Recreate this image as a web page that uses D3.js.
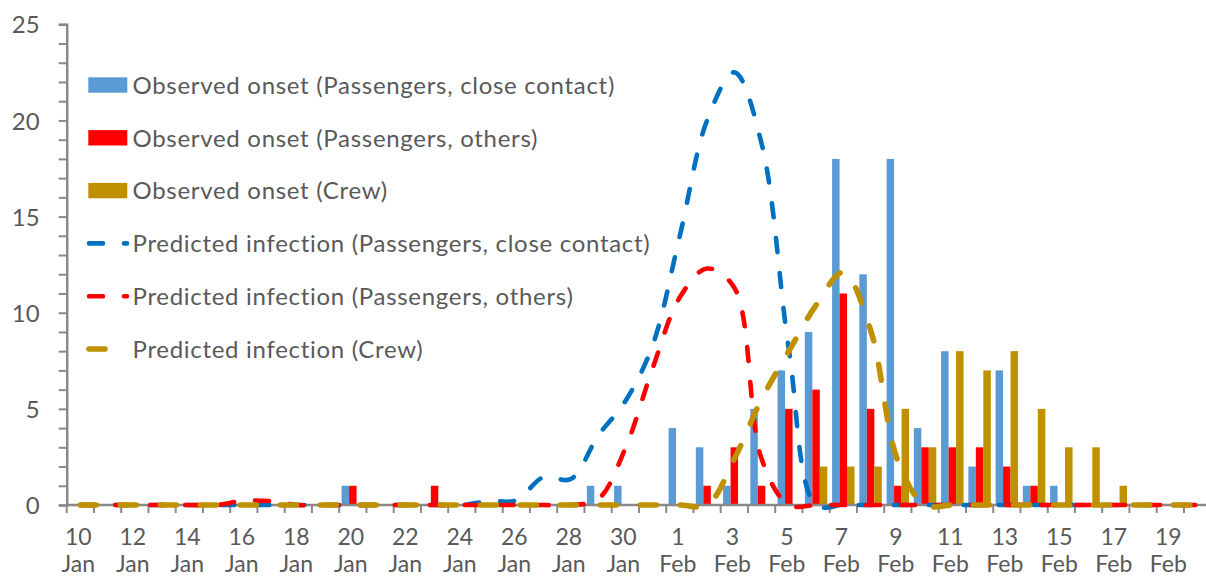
<!DOCTYPE html>
<html>
<head>
<meta charset="utf-8">
<script src="https://cdn.jsdelivr.net/npm/d3@7"></script>
<style>
  body { margin: 0; background: #fff; }
  text { font-family: Lato, "Open Sans", sans-serif; fill: #595959; }
</style>
</head>
<body>
<div id="chart"></div>
<script>
// categories: one per day, 10 Jan .. 20 Feb
const dayNums = ["10","11","12","13","14","15","16","17","18","19","20","21","22","23","24","25","26","27","28","29","30","31",
                 "1","2","3","4","5","6","7","8","9","10","11","12","13","14","15","16","17","18","19","20"];
const months  = ["Jan","Jan","Jan","Jan","Jan","Jan","Jan","Jan","Jan","Jan","Jan","Jan","Jan","Jan","Jan","Jan","Jan","Jan","Jan","Jan","Jan","Jan",
                 "Feb","Feb","Feb","Feb","Feb","Feb","Feb","Feb","Feb","Feb","Feb","Feb","Feb","Feb","Feb","Feb","Feb","Feb","Feb","Feb"];
const dates = dayNums.map((d, i) => d + " " + months[i]);

// observed onsets (bars)
const obsClose  = [0,0,0,0,0,0,0,0,0,0, 1,0,0,0,0,0,0,0,0,1, 1,0,4,3,1,5,7,9,18,12, 18,4,8,2,7,1,1,0,0,0, 0,0];
const obsOthers = [0,0,0,0,0,0,0,0,0,0, 1,0,0,1,0,0,0,0,0,0, 0,0,0,1,3,1,5,6,11,5, 1,3,3,3,2,1,0,0,0,0, 0,0];
const obsCrew   = [0,0,0,0,0,0,0,0,0,0, 0,0,0,0,0,0,0,0,0,0, 0,0,0,0,0,0,0,2,2,2, 5,3,8,7,8,5,3,3,1,0, 0,0];

// predicted infections (smoothed dashed lines)
const predClose  = [0,0,0,0,0,0,0,0,0,0, 0,0,0,0,0,0.2,0.25,1.45,1.35,3.6, 5.4,8.3,14.0,20.0,22.5,18.8,8.1,0,0,0, 0,0,0,0,0,0,0,0,0,0, 0,0];
const predOthers = [0,0,0,0,0,0,0.22,0.2,0,0, 0,0,0,0,0,0,0,0,0,0.3, 2.95,7.1,10.8,12.3,11.3,2.4,0,0,0,0, 0,0,0,0,0,0,0,0,0,0, 0,0];
const predCrew   = [0,0,0,0,0,0,0,0,0,0, 0,0,0,0,0,0,0,0,0,0, 0,0,0,0,2.4,5.5,8.0,10.4,12.1,9.1, 2.3,0,0,0,0,0,0,0,0,0, 0,0];

const barNames  = ["Observed onset (Passengers, close contact)", "Observed onset (Passengers, others)", "Observed onset (Crew)"];
const lineNames = ["Predicted infection (Passengers, close contact)", "Predicted infection (Passengers, others)", "Predicted infection (Crew)"];
const yTicks = d3.range(0, 26, 1);

const width = 1206, height = 577;
const margin = { left: 66.7, top: 24.3, bottom: 505 };
const step = 27.25;

const svg = d3.select("#chart").append("svg")
  .attr("width", width).attr("height", height);

const x = d3.scaleBand().domain(dates).range([margin.left, margin.left + step * dates.length]);
const y = d3.scaleLinear().domain([0, 25]).range([margin.bottom, margin.top]);
const sub = d3.scaleBand().domain([0, 1, 2]).range([0, x.bandwidth()]).paddingOuter(0.32);

const barSeries = [
  { values: obsClose,  color: "#5B9BD5" },
  { values: obsOthers, color: "#FF0000" },
  { values: obsCrew,   color: "#BF9000" }
];
const lineSeries = [
  { values: predClose,  color: "#0070C0", w: 4.6, dash: "14,21" },
  { values: predOthers, color: "#FF0000", w: 4.6, dash: "14,21" },
  { values: predCrew,   color: "#BF9000", w: 5.6, dash: "16,24" }
];

// y axis
const yAxis = svg.append("g")
  .attr("transform", `translate(${margin.left},0)`)
  .call(d3.axisLeft(y).tickValues(yTicks).tickSize(8).tickPadding(19)
    .tickFormat(d => d % 5 === 0 ? d : ""));
yAxis.select(".domain").attr("stroke", "#898989").attr("stroke-width", 2.5);
yAxis.selectAll(".tick line").attr("stroke", "#898989").attr("stroke-width", 2);
yAxis.selectAll(".tick text")
  .attr("font-size", 24).attr("font-family", "Lato").attr("fill", "#595959").attr("dy", "0.36em");

// bars
barSeries.forEach((s, k) => {
  svg.append("g").selectAll("rect")
    .data(s.values)
    .join("rect")
    .attr("x", (d, i) => x(dates[i]) + sub(k))
    .attr("width", sub.bandwidth())
    .attr("y", d => y(d))
    .attr("height", d => y(0) - y(d))
    .attr("fill", s.color);
});

// x axis line and ticks at category boundaries
svg.append("line")
  .attr("x1", margin.left).attr("x2", x.range()[1])
  .attr("y1", y(0)).attr("y2", y(0))
  .attr("stroke", "#898989").attr("stroke-width", 2.5);

const bounds = dates.map(d => x(d)).concat([x.range()[1]]);
svg.append("g").selectAll("line")
  .data(bounds)
  .join("line")
  .attr("x1", d => d).attr("x2", d => d)
  .attr("y1", y(0)).attr("y2", y(0) + 8)
  .attr("stroke", "#898989").attr("stroke-width", 2);

const xl = svg.append("g").selectAll("text")
  .data(dates.filter((d, i) => i % 2 === 0))
  .join("text")
  .attr("text-anchor", "middle")
  .attr("font-size", 23);
xl.append("tspan")
  .attr("x", d => x(d) + x.bandwidth() / 2 - 2)
  .attr("y", 545)
  .text(d => d.split(" ")[0]);
xl.append("tspan")
  .attr("x", d => x(d) + x.bandwidth() / 2 - 2)
  .attr("y", 572)
  .text(d => d.split(" ")[1]);

// lines
const line = d3.line()
  .x((d, i) => x(dates[i]) + x.bandwidth() / 2)
  .y(d => y(d))
  .curve(d3.curveCatmullRom.alpha(0.5));

lineSeries.forEach(s => {
  svg.append("path")
    .datum(s.values)
    .attr("fill", "none")
    .attr("stroke", s.color)
    .attr("stroke-width", s.w)
    .attr("stroke-linecap", "round")
    .attr("stroke-dasharray", s.dash)
    .attr("d", line);
});

// legend
const rowY = i => 85 + i * 52.8;
const lg = svg.append("g");
barSeries.forEach((s, k) => {
  lg.append("rect")
    .attr("x", 88.3).attr("y", rowY(k) - 7.7)
    .attr("width", 39).attr("height", 15.4)
    .attr("fill", s.color);
  lg.append("text")
    .attr("x", 132.5).attr("y", rowY(k)).attr("dy", "0.37em")
    .attr("font-size", 24).attr("letter-spacing", 0.7)
    .text(barNames[k]);
});
lineSeries.forEach((s, k) => {
  const yy = rowY(k + 3);
  lg.append("line")
    .attr("x1", 89).attr("x2", 127)
    .attr("y1", yy).attr("y2", yy)
    .attr("stroke", s.color)
    .attr("stroke-width", s.w)
    .attr("stroke-linecap", "round")
    .attr("stroke-dasharray", s.dash);
  lg.append("text")
    .attr("x", 132.5).attr("y", yy).attr("dy", "0.37em")
    .attr("font-size", 24).attr("letter-spacing", 0.7)
    .text(lineNames[k]);
});
</script>
</body>
</html>
